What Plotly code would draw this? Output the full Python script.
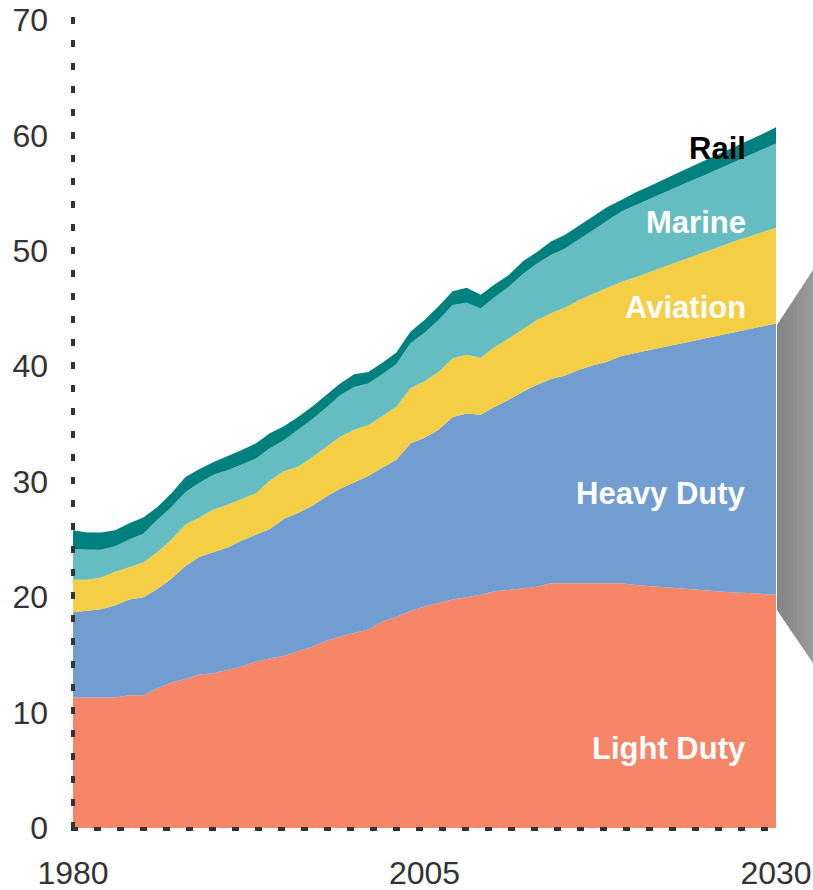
import plotly.graph_objects as go

years = list(range(1980, 2031))

light_duty = [11.3, 11.3, 11.3, 11.3, 11.5, 11.5, 12.1, 12.6, 12.9, 13.3,
              13.4, 13.7, 14.0, 14.4, 14.7, 14.9, 15.3, 15.7, 16.2, 16.6,
              16.9, 17.2, 17.9, 18.3, 18.8, 19.2, 19.5, 19.8, 20.0, 20.2,
              20.5, 20.65, 20.8, 20.9, 21.2, 21.2, 21.2, 21.2, 21.2, 21.2,
              21.05, 20.95, 20.85, 20.75, 20.65, 20.55, 20.45, 20.4, 20.35, 20.3,
              20.2]
heavy_duty = [7.4, 7.5, 7.65, 8.0, 8.3, 8.5, 8.6, 9.0, 9.8, 10.2,
              10.5, 10.6, 10.9, 11.0, 11.2, 11.9, 12.0, 12.2, 12.5, 12.8,
              13.05, 13.3, 13.3, 13.6, 14.5, 14.6, 15.0, 15.8, 15.9, 15.6,
              16.0, 16.45, 17.0, 17.5, 17.7, 18.0, 18.5, 18.9, 19.2, 19.7,
              20.1, 20.45, 20.8, 21.15, 21.5, 21.85, 22.2, 22.5, 22.8, 23.15,
              23.5]
aviation = [2.8, 2.7, 2.75, 2.9, 2.8, 3.0, 3.2, 3.4, 3.6, 3.4,
            3.7, 3.7, 3.6, 3.6, 4.2, 4.1, 4.0, 4.2, 4.3, 4.5,
            4.55, 4.4, 4.5, 4.6, 4.8, 4.9, 5.0, 5.1, 5.1, 4.95,
            5.2, 5.3, 5.4, 5.6, 5.7, 5.9, 6.05, 6.2, 6.4, 6.4,
            6.55, 6.75, 6.95, 7.15, 7.35, 7.55, 7.75, 7.9, 8.05, 8.15,
            8.3]
marine = [2.7, 2.6, 2.4, 2.2, 2.4, 2.5, 2.8, 2.8, 2.8, 3.0,
          3.0, 3.0, 3.0, 3.0, 2.8, 2.7, 3.2, 3.3, 3.4, 3.6,
          3.7, 3.6, 3.6, 3.7, 3.9, 4.2, 4.5, 4.6, 4.5, 4.25,
          4.3, 4.5, 4.8, 4.9, 5.05, 5.1, 5.25, 5.5, 5.8, 6.1,
          6.25, 6.35, 6.45, 6.55, 6.6, 6.65, 6.75, 6.9, 7.0, 7.15,
          7.3]
rail = [1.6, 1.5, 1.5, 1.4, 1.4, 1.4, 1.1, 1.2, 1.3, 1.2,
        1.1, 1.2, 1.25, 1.3, 1.3, 1.2, 1.1, 1.1, 1.1, 1.0,
        1.1, 1.0, 1.0, 1.0, 1.0, 1.1, 1.2, 1.2, 1.3, 1.2,
        1.1, 1.0, 1.1, 1.0, 1.15, 1.2, 1.2, 1.2, 1.2, 1.0,
        1.1, 1.1, 1.15, 1.15, 1.2, 1.25, 1.25, 1.25, 1.3, 1.35,
        1.4]

series_names = ["Light Duty", "Heavy Duty", "Aviation", "Marine", "Rail"]
series_values = [light_duty, heavy_duty, aviation, marine, rail]
colors = ["#F58667", "#719DD1", "#F4CF45", "#66BDC1", "#00817F"]

y_ticks = [0, 10, 20, 30, 40, 50, 60, 70]
x_ticks = [1980, 2005, 2030]

# label positions (data coords) and colors
label_x = 2028.0
label_y = [6.9, 29.0, 45.1, 52.5, 58.9]
label_colors = ["white", "white", "white", "white", "black"]

W, H = 813, 890
ML, MT = 73, 20
PW, PH = 703, 808
MR, MB = W - ML - PW, H - MT - PH

fig = go.Figure()
for name, vals, col in zip(series_names, series_values, colors):
    fig.add_trace(go.Scatter(
        x=years, y=vals, name=name, mode="lines", stackgroup="one",
        line=dict(width=0, color=col), fillcolor=col, hoverinfo="x+y+name"))

for name, ly, lc in zip(series_names, label_y, label_colors):
    fig.add_annotation(x=label_x, y=ly, xref="x", yref="y", text="<b>%s</b>" % name,
                       showarrow=False, xanchor="right", yanchor="middle",
                       font=dict(family="Liberation Sans, Arial", size=31, color=lc))


def px2paper(px, py):
    return (px - ML) / PW, (H - MB - py) / PH


shapes = []
# dotted axis lines
x0, y0 = px2paper(73, 829)
x1, y1 = px2paper(73, 17)
shapes.append(dict(type="line", xref="paper", yref="paper", x0=x0, y0=y0, x1=x1, y1=y1,
                   line=dict(color="#333333", width=4, dash="7px,16px")))
x0, y0 = px2paper(71, 829)
x1, y1 = px2paper(768, 829)
shapes.append(dict(type="line", xref="paper", yref="paper", x0=x0, y0=y0, x1=x1, y1=y1,
                   line=dict(color="#333333", width=4, dash="7px,16px")))

# grey gradient trapezoid on the right
n = 12
lx, rx = 777.0, 816.0
for i in range(n):
    a = lx + (rx - lx) * i / n
    b = lx + (rx - lx) * (i + 1) / n + 0.6
    def top(x):
        return 325 + (270 - 325) * (x - 777) / (813 - 777)
    def bot(x):
        return 610 + (663 - 610) * (x - 777) / (813 - 777)
    pts = [(a, top(a)), (b, top(b)), (b, bot(b)), (a, bot(a))]
    pp = [px2paper(*p) for p in pts]
    path = "M %f,%f L %f,%f L %f,%f L %f,%f Z" % (pp[0] + pp[1] + pp[2] + pp[3])
    g = int(0x84 + (0x9c - 0x84) * i / (n - 1))
    shapes.append(dict(type="path", xref="paper", yref="paper", path=path,
                       fillcolor="rgb(%d,%d,%d)" % (g, g, g), line=dict(width=0)))

fig.update_layout(
    width=W, height=H,
    margin=dict(l=ML, r=MR, t=MT, b=MB, autoexpand=False),
    paper_bgcolor="white", plot_bgcolor="white",
    showlegend=False,
    font=dict(family="Liberation Sans, Arial", size=30, color="#333333"),
    shapes=shapes,
    xaxis=dict(range=[1980, 2030], tickvals=x_ticks, showgrid=False, zeroline=False,
               showline=False, ticks="", ticklabelstandoff=23, automargin=False,
               tickfont=dict(size=32, color="#333333")),
    yaxis=dict(range=[0, 70], tickvals=y_ticks, showgrid=False, zeroline=False,
               showline=False, ticks="", ticklabelstandoff=24, automargin=False,
               tickfont=dict(size=32, color="#333333")),
)

fig.write_html(
    "out.html",
    config={"displayModeBar": False},
    post_script="document.body.style.margin='0px';document.body.style.overflow='hidden';",
)
